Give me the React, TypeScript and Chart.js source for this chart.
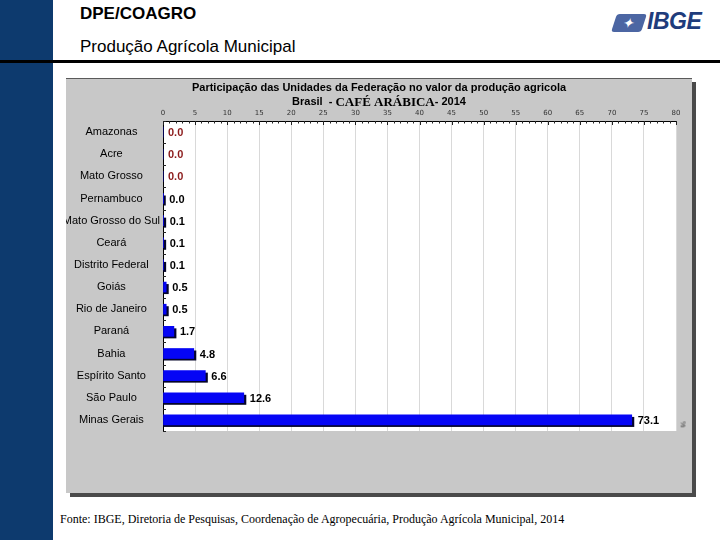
import React, { useEffect, useRef } from "react";
import { Chart, registerables } from "chart.js";

Chart.register(...registerables);

const categories = [
  "Amazonas",
  "Acre",
  "Mato Grosso",
  "Pernambuco",
  "Mato Grosso do Sul",
  "Ceará",
  "Distrito Federal",
  "Goiás",
  "Rio de Janeiro",
  "Paraná",
  "Bahia",
  "Espírito Santo",
  "São Paulo",
  "Minas Gerais",
];

const shares = [0, 0, 0, 0.04, 0.1, 0.1, 0.1, 0.5, 0.5, 1.7, 4.8, 6.6, 12.6, 73.1];

const xMin = 0;
const xMax = 80;
const xStep = 5;

const titleText = "Participação das Unidades da Federação no valor da produção agricola";
const subtitleParts = ["Brasil  - ", "CAFÉ ARÁBICA", "- 2014"];
const sourceText =
  "Fonte: IBGE, Diretoria de Pesquisas, Coordenação de Agropecuária, Produção Agrícola Municipal, 2014";

const SANS = '"Liberation Sans", Arial, Helvetica, sans-serif';
const SERIF = '"Liberation Serif", "Times New Roman", serif';

const plotBackground = {
  id: "plotBackground",
  beforeDraw(chart: any) {
    const { ctx, chartArea } = chart;
    ctx.save();
    ctx.fillStyle = "#ffffff";
    ctx.fillRect(chartArea.left, chartArea.top, chartArea.right - chartArea.left, chartArea.bottom - chartArea.top);
    ctx.restore();
  },
};

const barShadow = {
  id: "barShadow",
  beforeDatasetsDraw(chart: any) {
    const { ctx } = chart;
    const meta = chart.getDatasetMeta(0);
    const data = chart.data.datasets[0].data as number[];
    ctx.save();
    ctx.fillStyle = "#05052a";
    meta.data.forEach((el: any, i: number) => {
      if (!(data[i] > 0)) return;
      const { x, y, base, height } = el.getProps(["x", "y", "base", "height"], true);
      ctx.fillRect(base, y - height / 2 + 2, x - base + 2.5, height);
    });
    ctx.restore();
  },
};

const valueLabels = {
  id: "valueLabels",
  afterDatasetsDraw(chart: any) {
    const { ctx } = chart;
    const meta = chart.getDatasetMeta(0);
    const data = chart.data.datasets[0].data as number[];
    ctx.save();
    ctx.font = `bold 11px ${SANS}`;
    ctx.textBaseline = "middle";
    ctx.textAlign = "left";
    meta.data.forEach((el: any, i: number) => {
      const { x, y } = el.getProps(["x", "y"], true);
      const v = data[i];
      ctx.fillStyle = v === 0 ? "#8b1a1a" : "#000000";
      ctx.fillText(v.toFixed(1), x + (v > 0 ? 6 : 5), y + 1);
    });
    ctx.restore();
  },
};

const axisTicks = {
  id: "axisTicks",
  afterDraw(chart: any) {
    const { ctx, chartArea } = chart;
    const xs = chart.scales.x;
    const ys = chart.scales.y;
    ctx.save();
    ctx.strokeStyle = "#222";
    ctx.lineWidth = 1;
    ctx.beginPath();
    for (let v = xMin; v <= xMax; v += 1) {
      const px = Math.round(xs.getPixelForValue(v)) + 0.5;
      const len = v % xStep === 0 ? 4 : 2.5;
      ctx.moveTo(px, chartArea.top);
      ctx.lineTo(px, chartArea.top + len);
    }
    const n = categories.length;
    for (let i = 0; i <= n; i++) {
      const py = Math.round(ys.getPixelForValue(i - 0.5)) + 0.5;
      ctx.moveTo(chartArea.left, py);
      ctx.lineTo(chartArea.left + 3, py);
    }
    ctx.stroke();
    ctx.restore();
  },
};

const mixedSubtitle = {
  id: "mixedSubtitle",
  afterDraw(chart: any) {
    const { ctx } = chart;
    const tb = chart.titleBlock;
    const fonts = [`bold 11px ${SANS}`, `bold 13px ${SERIF}`, `bold 11px ${SANS}`];
    ctx.save();
    let total = 0;
    const widths = subtitleParts.map((t, i) => {
      ctx.font = fonts[i];
      const w = ctx.measureText(t).width;
      total += w;
      return w;
    });
    let x = (tb.left + tb.right) / 2 - total / 2;
    const y = tb.bottom + 6;
    ctx.fillStyle = "#000";
    ctx.textBaseline = "middle";
    ctx.textAlign = "left";
    subtitleParts.forEach((t, i) => {
      ctx.font = fonts[i];
      ctx.fillText(t, x, y);
      x += widths[i];
    });
    ctx.restore();
  },
};

function ChartPanel() {
  const ref = useRef<HTMLCanvasElement | null>(null);
  useEffect(() => {
    if (!ref.current) return;
    const chart = new Chart(ref.current, {
      type: "bar",
      data: {
        labels: categories,
        datasets: [
          {
            data: shares,
            backgroundColor: "#0505f5",
            borderWidth: 0,
            barThickness: 10,
            yAxisID: "y",
          },
        ],
      },
      options: {
        indexAxis: "y",
        animation: false,
        responsive: false,
        maintainAspectRatio: false,
        layout: { padding: { left: 0, right: 0, top: 0, bottom: 63 } },
        plugins: {
          legend: { display: false },
          tooltip: { enabled: false },
          title: {
            display: true,
            text: titleText,
            color: "#000",
            font: { family: SANS, size: 11, weight: "bold" },
            padding: { top: 2, bottom: 2 },
          },
        },
        scales: {
          x: {
            position: "top",
            min: xMin,
            max: xMax,
            ticks: {
              stepSize: xStep,
              color: "#333",
              font: { family: '"DejaVu Sans", sans-serif', size: 7 },
              padding: 4,
              maxRotation: 0,
              autoSkip: false,
            },
            grid: { color: "#d9d9d9", drawTicks: false, lineWidth: 1 },
            border: { display: true, color: "#000", width: 1 },
            afterFit(scale: any) {
              scale.height = 24.8;
            },
          },
          y: {
            position: "left",
            ticks: {
              color: "#000",
              font: { family: SANS, size: 11 },
              padding: 3,
              crossAlign: "center",
              autoSkip: false,
            },
            grid: { color: "rgba(0,0,0,0)", drawTicks: false },
            border: { display: true, color: "#000", width: 1 },
            afterFit(scale: any) {
              scale.width = 97;
            },
          },
          yRight: {
            type: "category",
            position: "right",
            ticks: { display: false },
            grid: { display: false, drawTicks: false },
            border: { display: false },
            afterFit(scale: any) {
              scale.width = 16;
            },
          },
        },
      },
      plugins: [plotBackground, barShadow, valueLabels, axisTicks, mixedSubtitle],
    } as any);
    return () => chart.destroy();
  }, []);
  return <canvas ref={ref} width={626} height={415} style={{ position: "absolute", left: 0, top: 0, width: 626, height: 415 }} />;
}

export default function App() {
  return (
    <div
      style={{
        position: "fixed",
        left: 0,
        top: 0,
        width: 720,
        height: 540,
        background: "#fff",
        overflow: "hidden",
        fontFamily: SANS,
        color: "#000",
      }}
    >
      <div style={{ position: "absolute", left: 0, top: 0, width: 53, height: 540, background: "#0d3a6e" }} />
      <div style={{ position: "absolute", left: 0, top: 60, width: 720, height: 3, background: "#000" }} />
      <div style={{ position: "absolute", left: 80, top: 5, fontSize: 17, fontWeight: 700, lineHeight: 1, whiteSpace: "nowrap" }}>
        DPE/COAGRO
      </div>
      <div style={{ position: "absolute", left: 80, top: 38, fontSize: 17, lineHeight: 1, whiteSpace: "nowrap" }}>
        Produção Agrícola Municipal
      </div>
      <div
        style={{
          position: "absolute",
          left: 614,
          top: 14,
          width: 30,
          height: 18,
          background: "#4c66a3",
          borderRadius: 3,
          transform: "skewX(-18deg)",
          color: "#fff",
          fontSize: 14,
          lineHeight: "18px",
          textAlign: "center",
          fontFamily: '"DejaVu Sans", sans-serif',
        }}
      >
        ✦
      </div>
      <div
        style={{
          position: "absolute",
          left: 647,
          top: 10,
          fontSize: 23,
          fontWeight: 700,
          fontStyle: "italic",
          color: "#1f3c7c",
          lineHeight: 1,
          letterSpacing: -0.5,
        }}
      >
        IBGE
      </div>
      <div
        style={{
          position: "absolute",
          left: 66,
          top: 78,
          width: 626,
          height: 415,
          background: "#c8c8c8",
          borderTop: "1px solid #5a5a5a",
          boxSizing: "border-box",
          boxShadow: "4px 4px 0 #4a4a4a",
        }}
      >
        <ChartPanel />
        <div
          style={{
            position: "absolute",
            left: 614,
            top: 342,
            fontSize: 7,
            lineHeight: 1,
            transform: "rotate(90deg)",
            color: "#333",
          }}
        >
          %
        </div>
      </div>
      <div
        style={{
          position: "absolute",
          left: 60,
          top: 513,
          fontFamily: SERIF,
          fontSize: 12,
          lineHeight: 1,
          whiteSpace: "nowrap",
        }}
      >
        {sourceText}
      </div>
    </div>
  );
}
